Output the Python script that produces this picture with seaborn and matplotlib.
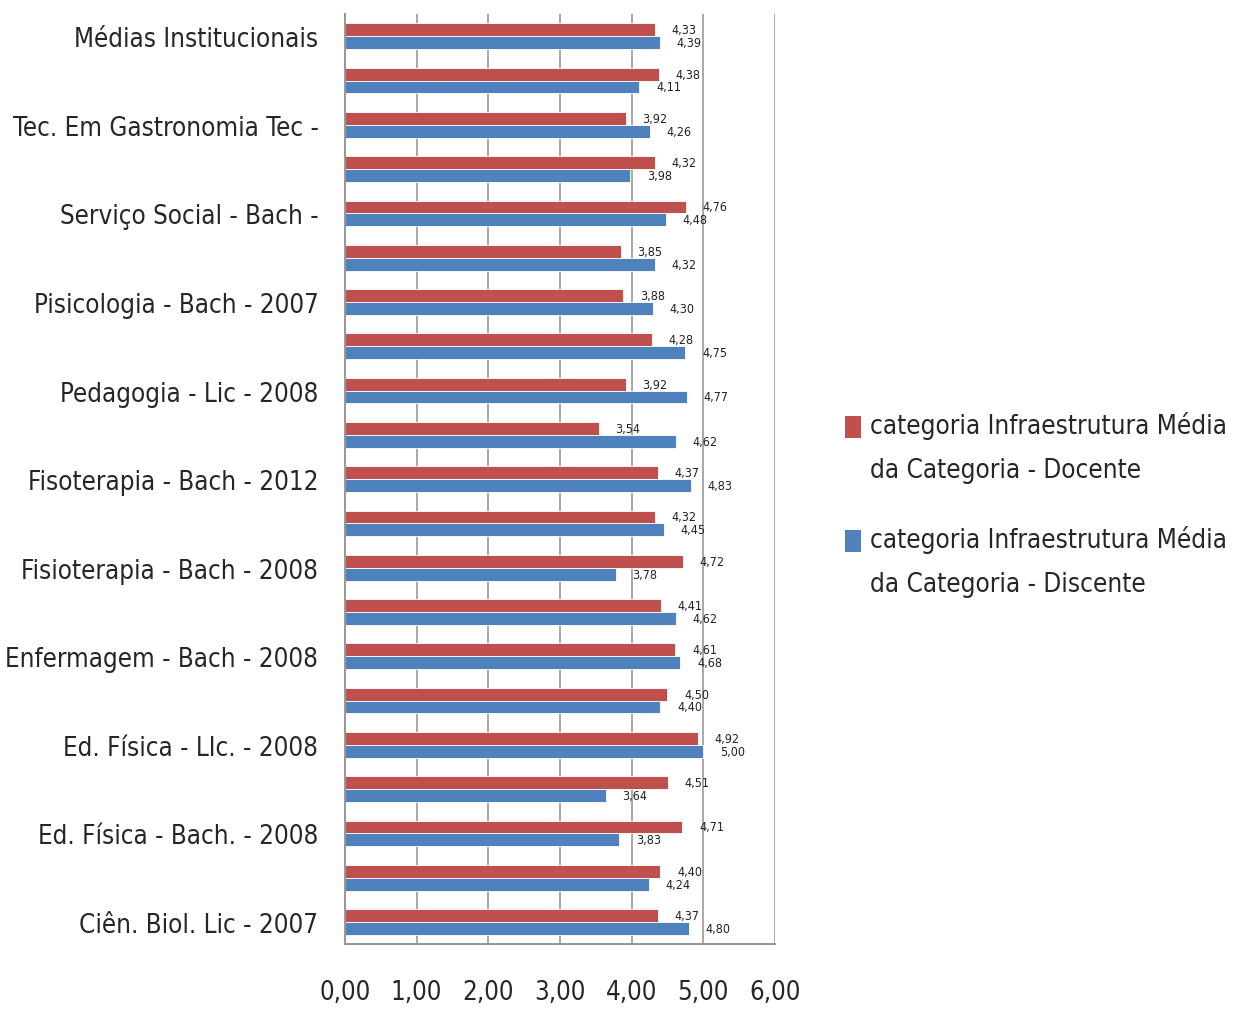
import matplotlib.pyplot as plt
import pandas as pd
import seaborn as sns
from matplotlib import font_manager
from matplotlib.patches import Patch
from matplotlib.ticker import FixedLocator

sns.set_style("white")

# pick a narrow face if one is installed (the original uses a condensed font)
narrow = None
for f in font_manager.fontManager.ttflist:
    if f.stretch in ("condensed", "semi-condensed", 600, 700) or "Narrow" in f.name or "Condensed" in f.name:
        narrow = f
        break
if narrow is not None:
    plt.rcParams["font.family"] = [narrow.name, "DejaVu Sans"]
    plt.rcParams["font.stretch"] = narrow.stretch
else:
    plt.rcParams["font.family"] = ["DejaVu Sans"]

# rows listed top to bottom; only every other row carries a label in the original
labels = [
    "Médias Institucionais", "",
    "Tec. Em Gastronomia Tec -", "",
    "Serviço Social - Bach -", "",
    "Pisicologia - Bach - 2007", "",
    "Pedagogia - Lic - 2008", "",
    "Fisoterapia - Bach - 2012", "",
    "Fisioterapia - Bach - 2008", "",
    "Enfermagem - Bach - 2008", "",
    "Ed. Física - LIc. - 2008", "",
    "Ed. Física - Bach. - 2008", "",
    "Ciên. Biol. Lic - 2007",
]
docente = [4.33, 4.38, 3.92, 4.32, 4.76, 3.85, 3.88, 4.28, 3.92, 3.54, 4.37,
           4.32, 4.72, 4.41, 4.61, 4.50, 4.92, 4.51, 4.71, 4.40, 4.37]
discente = [4.39, 4.11, 4.26, 3.98, 4.48, 4.32, 4.30, 4.75, 4.77, 4.62, 4.83,
            4.45, 3.78, 4.62, 4.68, 4.40, 5.00, 3.64, 3.83, 4.24, 4.80]
series = ["categoria Infraestrutura Média\nda Categoria - Docente",
          "categoria Infraestrutura Média\nda Categoria - Discente"]
colors = ["#C0504D", "#4F81BD"]

rows = [f"r{i}" for i in range(len(labels))]
df = pd.DataFrame({
    "row": rows * 2,
    "valor": docente + discente,
    "serie": [series[0]] * len(rows) + [series[1]] * len(rows),
})

fig = plt.figure(figsize=(12.36, 10.12), dpi=100)
ax = fig.add_axes([0.279, 0.066, 0.348, 0.919])

sns.barplot(data=df, y="row", x="valor", hue="serie", order=rows,
            hue_order=series, palette=colors, width=0.58, orient="h",
            saturation=1, edgecolor="white", linewidth=0.6, legend=False, ax=ax)

# value labels (comma decimal)
for cont in ax.containers:
    ax.bar_label(cont, labels=[f"{b.get_width():.2f}".replace(".", ",") for b in cont],
                 padding=12, fontsize=9, color="#222222")
for t in ax.texts:
    x, y = t.get_position()
    t.set_position((x, y + 0.08))

ax.set_xlim(0, 6)
ax.set_ylim(len(rows) - 0.5, -0.5)
ax.set_xticks(range(7))
ax.set_xticklabels([f"{v},00" for v in range(7)], fontsize=18.5)
ax.set_yticks(range(len(rows)))
ax.set_yticklabels(labels, fontsize=18.6)
ax.yaxis.set_minor_locator(FixedLocator([i - 0.5 for i in range(len(rows) + 1)]))
ax.tick_params(axis="y", which="major", length=0, pad=19)
ax.tick_params(axis="y", which="minor", length=4, color="#888888", width=1)
ax.tick_params(axis="x", length=7, color="#999999", width=1, pad=18)
ax.set_xlabel("")
ax.set_ylabel("")

ax.grid(axis="x", color="#999999", linewidth=1.2)
ax.set_axisbelow(True)
for s in ["top", "right"]:
    ax.spines[s].set_visible(False)
for s in ["left", "bottom"]:
    ax.spines[s].set_color("#999999")
    ax.spines[s].set_linewidth(1.5)

leg_fs = 18.7
handles = [Patch(facecolor=c, edgecolor="none") for c in colors]
leg = fig.legend(handles, series, loc="center left", bbox_to_anchor=(0.665, 0.501),
                 frameon=False, fontsize=leg_fs, handlelength=0.6, handleheight=0.9,
                 handletextpad=0.35, labelspacing=1.6)
for t in leg.get_texts():
    t.set_linespacing(1.92)

# put each square beside the first line of its label, as in the original
fig.canvas.draw()
rend = fig.canvas.get_renderer()
fs_px = leg_fs * fig.dpi / 72
for h, t in zip(leg.legend_handles, leg.get_texts()):
    tb = t.get_window_extent(rend)
    hb = h.get_window_extent(rend)
    target = tb.y1 - 0.62 * fs_px
    shift = target - (hb.y0 + hb.y1) / 2
    h.set_y(h.get_y() + shift * 72 / fig.dpi)

fig.savefig("out.png", dpi=100)
